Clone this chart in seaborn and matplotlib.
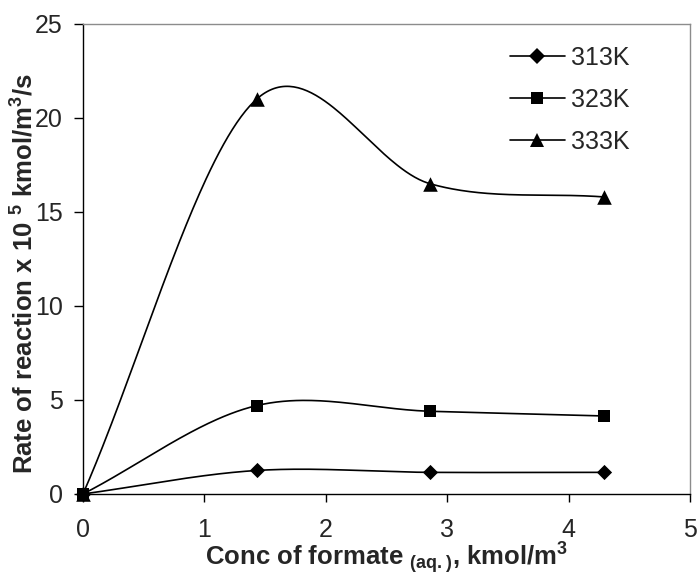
import numpy as np
import pandas as pd
import matplotlib
matplotlib.use("Agg")
import matplotlib.pyplot as plt
from matplotlib.lines import Line2D
import seaborn as sns

# Measured rates (x 10^5 kmol/m^3/s) against formate concentration
conc = [0.0, 1.43, 2.86, 4.29]
rate_313 = [0.0, 1.25, 1.15, 1.15]
rate_323 = [0.0, 4.7, 4.4, 4.15]
rate_333 = [0.0, 21.0, 16.5, 15.8]
series_names = ["313K", "323K", "333K"]
series_markers = ["D", "s", "^"]

sns.set_theme(style="white")
plt.rcParams["font.family"] = ["Liberation Sans", "DejaVu Sans"]
plt.rcParams["mathtext.fontset"] = "custom"
plt.rcParams["mathtext.rm"] = "Liberation Sans:bold"
plt.rcParams["mathtext.bf"] = "Liberation Sans:bold"
plt.rcParams["mathtext.default"] = "bf"


def smooth_curve(xs, ys, n=80):
    """Smoothed line made of cubic Bezier segments whose control points
    come from the neighbouring points (one third of the chord at the ends)."""
    pts = np.column_stack([xs, ys]).astype(float)
    out = []
    m = len(pts)
    t = np.linspace(0, 1, n)[:, None]
    for i in range(m - 1):
        p1 = pts[i]
        p2 = pts[i + 1]
        c1 = p1 + (p2 - pts[i - 1]) / 6.0 if i > 0 else p1 + (p2 - p1) / 3.0
        c2 = p2 - (pts[i + 2] - p1) / 6.0 if i + 2 < m else p2 - (p2 - p1) / 3.0
        seg = ((1 - t) ** 3) * p1 + 3 * ((1 - t) ** 2) * t * c1 \
            + 3 * (1 - t) * t ** 2 * c2 + t ** 3 * p2
        out.append(seg if i == 0 else seg[1:])
    arr = np.vstack(out)
    return arr[:, 0], arr[:, 1]


fig = plt.figure(figsize=(6.99, 5.75), dpi=100)
ax = fig.add_axes([0.1187, 0.1409, 0.8684, 0.8174])

marker_area = {"D": 60, "s": 85, "^": 110}
legend_size = {"D": 8.5, "s": 8.5, "^": 10}

handles = []
for name, vals, mk in zip(series_names, [rate_313, rate_323, rate_333], series_markers):
    sx, sy = smooth_curve(conc, vals)
    curve = pd.DataFrame({"x": sx, "y": sy})
    sns.lineplot(data=curve, x="x", y="y", sort=False, estimator=None,
                 color="black", linewidth=1.2, ax=ax)
    pts = pd.DataFrame({"x": conc, "y": vals})
    sns.scatterplot(data=pts, x="x", y="y", marker=mk, s=marker_area[mk],
                    color="black", edgecolor="black", linewidth=0, ax=ax,
                    zorder=3, clip_on=False)
    handles.append(Line2D([0], [0], color="black", linewidth=1.2, marker=mk,
                          markersize=legend_size[mk], markeredgewidth=0,
                          label=name))

ax.set_xlim(0, 5)
ax.set_ylim(0, 25)
ax.set_xticks([0, 1, 2, 3, 4, 5])
ax.set_yticks([0, 5, 10, 15, 20, 25])
ax.tick_params(axis="both", which="major", direction="out", width=1,
               color="black", labelsize=18, bottom=True, left=True)
ax.tick_params(axis="x", length=5.5, pad=12)
ax.tick_params(axis="y", length=6.5, pad=8)

for side in ["left", "bottom"]:
    ax.spines[side].set_color("black")
    ax.spines[side].set_linewidth(1.0)
for side in ["top", "right"]:
    ax.spines[side].set_color("#8c8c8c")
    ax.spines[side].set_linewidth(1.0)

ax.set_xlabel("Conc of formate $_{(aq.)}$, kmol/m$^{3}$", fontsize=18.5,
              fontweight="bold", va="baseline")
ax.xaxis.set_label_coords(0.5, -0.153)
ax.set_ylabel("Rate of reaction x 10 $^{5}$ kmol/m$^{3}$/s", fontsize=18.5,
              fontweight="bold", va="baseline")
ax.yaxis.set_label_coords(-0.0824, 0.468)

ax.legend(handles=handles, loc="upper left", bbox_to_anchor=(0.703, 0.954),
          frameon=False, fontsize=18, handlelength=2.2, handletextpad=0.25,
          labelspacing=0.72, borderpad=0, borderaxespad=0)

fig.savefig("out.png", dpi=100)
